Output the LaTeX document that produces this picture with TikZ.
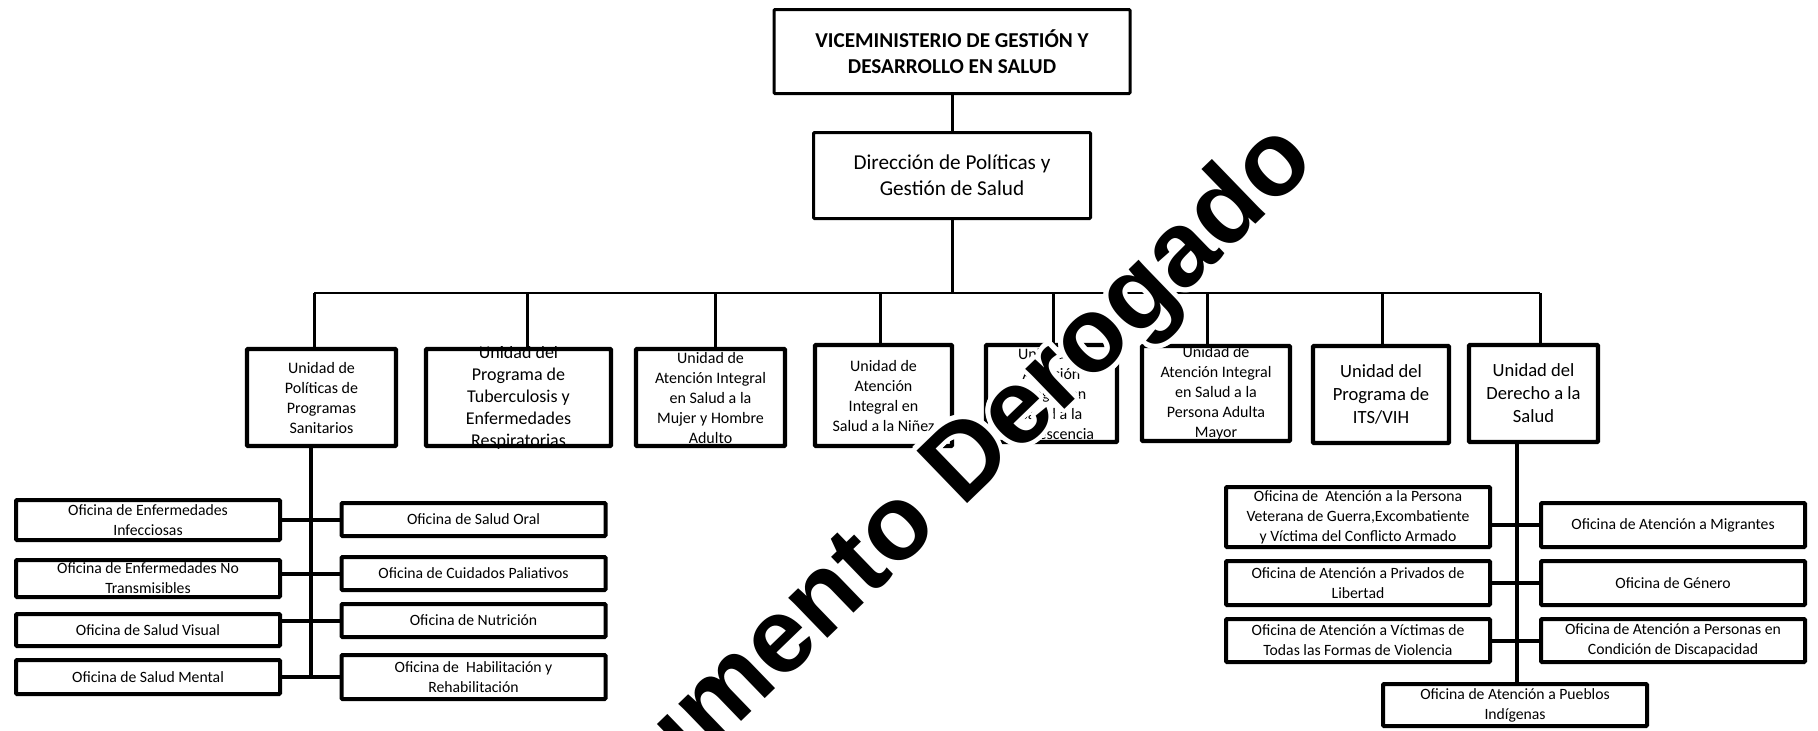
\documentclass[tikz,border=0pt]{standalone}
\usepackage{fontspec}
\setmainfont{Carlito}
\newfontfamily\markfont{Liberation Sans}
\usetikzlibrary{positioning}

\begin{document}
\begin{tikzpicture}[x=0.5pt,y=-0.5pt,
	caja/.style={draw,line width=1.5pt,inner sep=0pt,align=center,rounded corners=0.5pt},
	unidad/.style={caja,line width=2.2pt,minimum height=48.5pt,font=\fontsize{8}{10}\selectfont},
	unidadg/.style={unidad,font=\fontsize{9.3}{11.5}\selectfont},
	oficina/.style={caja,line width=2pt,minimum width=132pt,font=\fontsize{7.85}{10}\selectfont},
	linea/.style={line width=1.5pt},
	tronco/.style={line width=2pt},
	marca/.style={font=\markfont\bfseries\fontsize{53}{60}\selectfont,rotate=44,anchor=base}]
		\useasboundingbox (0,0) rectangle (1818,730);
		\node[caja,minimum width=178pt,minimum height=42pt,font=\fontsize{10.6}{13}\selectfont\bfseries] (vice) at (952,51.5) {VICEMINISTERIO DE GESTIÓN Y\\DESARROLLO EN SALUD};
		\node[caja,minimum width=138.5pt,minimum height=43pt,font=\fontsize{10.6}{13}\selectfont] (dir) at (952,175.5) {Dirección de Políticas y\\Gestión de Salud};
		\coordinate (bus) at (952,293);
		\node[unidad,minimum width=74.5pt] (u1) at (321.5,397.5) {Unidad de\\Políticas de\\Programas\\Sanitarios};
		\node[unidad,minimum width=92.5pt] (u2) at (518.5,397.5) {};
		\node[unidad,minimum width=74.5pt] (u3) at (710.5,397.5) {};
		\node[unidad,minimum width=68.5pt,minimum height=50.5pt] (u4) at (883.5,395.5) {Unidad de\\Atención\\Integral en\\Salud a la Niñez};
		\node[unidad,minimum width=65.5pt] (u5) at (1051.5,393.5) {};
		\node[unidad,minimum width=74pt,minimum height=47.5pt] (u6) at (1216,393.5) {};
		\node[unidadg,minimum width=68pt] (u7) at (1381,394.5) {Unidad del\\Programa de\\ITS/VIH};
		\node[unidadg,minimum width=64.5pt] (u8) at (1533.5,393.5) {Unidad del\\Derecho a la\\Salud};
		\begin{scope}
			\clip (u2.south west) rectangle (u2.north east);
			\node[align=center,font=\fontsize{9}{11}\selectfont] (t2) at (u2) {Unidad del\\Programa de\\Tuberculosis y\\Enfermedades\\Respiratorias};
		\end{scope}
		\begin{scope}
			\clip (u3.south west) rectangle (u3.north east);
			\node[align=center,font=\fontsize{8}{10}\selectfont] (t3) at (u3) {Unidad de\\Atención Integral\\en Salud a la\\Mujer y Hombre\\Adulto};
		\end{scope}
		\begin{scope}
			\clip (u5.south west) rectangle (u5.north east);
			\node[align=center,font=\fontsize{8}{10}\selectfont] (t5) at (u5) {Unidad de\\Atención\\Integral en\\Salud a la\\Adolescencia};
		\end{scope}
		\begin{scope}
			\clip (u6.south west) rectangle (u6.north east);
			\node[align=center,font=\fontsize{8}{10}\selectfont] (t6) at (u6) {Unidad de\\Atención Integral\\en Salud a la\\Persona Adulta\\Mayor};
		\end{scope}
		\draw[linea] (vice) -- (dir);
		\draw[linea] (dir) -- (bus);
		\draw[line width=1pt] ([xshift=-3.75pt]u1.north |- bus) -- ([xshift=3.25pt]u8.north |- bus);
		\foreach \u/\d in {u1/-3.75,u2/4.25,u3/2.25,u4/-1.75,u5/0.75,u6/-4.5,u7/0.5,u8/3.25}
			\draw[linea] ([xshift=\d pt]\u.north) -- ([xshift=\d pt]\u.north |- bus);
		\node[oficina,minimum height=20pt] (l1) at (148,520) {Oficina de Enfermedades\\Infecciosas};
		\node[oficina,minimum height=18.5pt] (l2) at (148,578.5) {Oficina de Enfermedades No\\Transmisibles};
		\node[oficina,minimum height=16pt] (l3) at (148,630) {Oficina de Salud Visual};
		\node[oficina,minimum height=17pt] (l4) at (148,677) {Oficina de Salud Mental};
		\node[oficina,minimum height=16.5pt] (r1) at (473.5,519.5) {Oficina de Salud Oral};
		\node[oficina,minimum height=16.5pt] (r2) at (473.5,573.5) {Oficina de Cuidados Paliativos};
		\node[oficina,minimum height=16.5pt] (r3) at (473.5,620.5) {Oficina de Nutrición};
		\node[oficina,minimum height=22pt] (r4) at (473.5,677) {Oficina de~ Habilitación y\\Rehabilitación};
		\coordinate (ltr) at (311,678);
		\draw[tronco] (u1.south -| ltr) -- (ltr);
		\foreach \a/\b in {l1/r1,l2/r2,l3/r3,l4/r4}
			\draw[tronco] (\b.west) -- (\b.west -| \a.east);
		\node[oficina,minimum height=30pt] (v1) at (1358,517) {Oficina de~ Atención a la Persona\\Veterana de Guerra,Excombatiente\\y Víctima del Conflicto Armado};
		\node[oficina,minimum height=22pt] (m1) at (1673,525) {Oficina de Atención a Migrantes};
		\node[oficina,minimum height=22pt] (v2) at (1358,583) {Oficina de Atención a Privados de\\Libertad};
		\node[oficina,minimum height=22pt] (m2) at (1673,583) {Oficina de Género};
		\node[oficina,minimum height=21.5pt] (v3) at (1358,640.5) {Oficina de Atención a Víctimas de\\Todas las Formas de Violencia};
		\node[oficina,minimum height=21.5pt] (m3) at (1673,640.5) {Oficina de Atención a Personas en\\Condición de Discapacidad};
		\node[oficina,minimum height=21pt] (p) at (1515,705) {Oficina de Atención a Pueblos\\Indígenas};
		\coordinate (rtr) at (1517,0);
		\draw[tronco] (u8.south -| rtr) -- (p.north -| rtr);
		\foreach \a/\b in {v1/m1,v2/m2,v3/m3}
			\draw[tronco] (\b.west) -- (\b.west -| \a.east);
		\foreach \ang in {0,22.5,...,337.5}
			\node[marca,text=white,shift={(\ang:2.5pt)}] at (920,549) {Documento Derogado};
		\node[marca] (sello) at (920,549) {Documento Derogado};
	\end{tikzpicture}
\end{document}
